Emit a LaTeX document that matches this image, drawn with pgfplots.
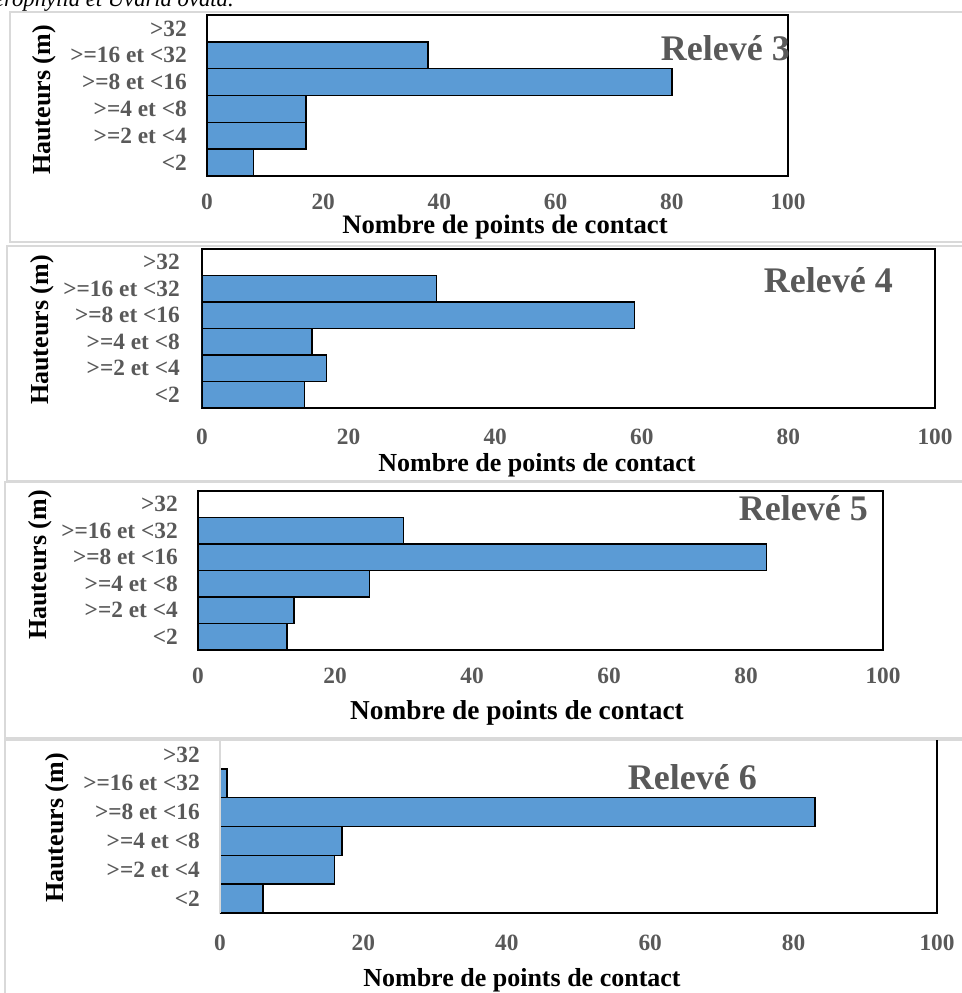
\documentclass[border=0pt]{standalone}
\usepackage{fontspec}
\setmainfont{Liberation Serif}
\usepackage{pgfplots}
\pgfplotsset{compat=1.18}
\definecolor{barblue}{HTML}{5B9BD5}
\definecolor{txtgray}{HTML}{595959}
\definecolor{framegray}{HTML}{D9D9D9}
\pgfplotsset{
  relstyle/.style={
    scale only axis,
    xbar, bar width=1,
    xmin=0, xmax=100, ymin=-0.5, ymax=5.5,
    xtick={0,20,40,60,80,100},
    ytick={0,1,2,3,4,5},
    yticklabels={{<2},{>=2 et <4},{>=4 et <8},{>=8 et <16},{>=16 et <32},{>32}},
    major tick length=0pt,
    axis line style={line width=1.1pt},
    /pgf/number format/assume math mode=true,
    tick label style={font=\fontsize{17.5}{20}\selectfont\bfseries, text=txtgray},
    yticklabel style={anchor=east, inner sep=0pt, xshift=-15pt},
    xticklabel style={anchor=center, inner sep=0pt},
  },
  barstyle/.style={fill=barblue, draw=black, line width=1.1pt},
}
\begin{document}
\begin{tikzpicture}[x=0.75pt,y=-0.75pt]
\useasboundingbox (0,0) rectangle (962,993);
% caption fragment (cut off at the top of the picture)
\node[anchor=base east, inner sep=0pt, font=\fontsize{17}{20}\selectfont\itshape] at (234,6) {heterophylla et Uvaria ovata.};
% panel frames
\draw[framegray, line width=1.5pt] (10,12) rectangle (975,242);
\draw[framegray, line width=1.5pt] (7,246) rectangle (975,481);
\draw[framegray, line width=1.5pt] (5,482) rectangle (975,738);
\draw[framegray, line width=1.5pt] (5,740) rectangle (975,1000);

% Releve 3
\begin{axis}[relstyle, at={(155.25pt,-132pt)}, anchor=south west,
  width=435.75pt, height=120.75pt,
  xticklabel style={yshift=-19.5pt}]
\addplot[barstyle] coordinates {(8,0) (17,1) (17,2) (80,3) (38,4)};
\end{axis}
\node[anchor=base east, inner sep=0pt, text=txtgray, font=\fontsize{27}{30}\selectfont\bfseries] at (790,60) {Relevé 3};
\node[font=\fontsize{20}{24}\selectfont\bfseries] at (505,227) {Nombre de points de contact};
\node[rotate=90, font=\fontsize{19.5}{24}\selectfont\bfseries] at (44,100) {Hauteurs (m)};

% Releve 4
\begin{axis}[relstyle, at={(151.5pt,-306pt)}, anchor=south west,
  width=549.75pt, height=119.25pt,
  xticklabel style={yshift=-21.75pt},
  yticklabel style={xshift=-1.5pt}]
\addplot[barstyle] coordinates {(14,0) (17,1) (15,2) (59,3) (32,4)};
\end{axis}
\node[anchor=base east, inner sep=0pt, text=txtgray, font=\fontsize{27}{30}\selectfont\bfseries] at (893,292) {Relevé 4};
\node[font=\fontsize{19.5}{24}\selectfont\bfseries] at (537,465) {Nombre de points de contact};
\node[rotate=90, font=\fontsize{19.5}{24}\selectfont\bfseries] at (42,330) {Hauteurs (m)};

% Releve 5
\begin{axis}[relstyle, at={(148.5pt,-487.5pt)}, anchor=south west,
  width=513.75pt, height=119.25pt,
  xticklabel style={yshift=-19.5pt}]
\addplot[barstyle] coordinates {(13,0) (14,1) (25,2) (83,3) (30,4)};
\end{axis}
\node[anchor=base east, inner sep=0pt, text=txtgray, font=\fontsize{27}{30}\selectfont\bfseries] at (868,520) {Relevé 5};
\node[font=\fontsize{20.5}{24}\selectfont\bfseries] at (517,713) {Nombre de points de contact};
\node[rotate=90, font=\fontsize{19.5}{24}\selectfont\bfseries] at (40,565) {Hauteurs (m)};

% Releve 6
\begin{axis}[relstyle, at={(165pt,-684.75pt)}, anchor=south west,
  width=537.75pt, height=129.75pt,
  axis line style={draw=none},
  xticklabel style={yshift=-22.5pt},
  after end axis/.code={
    \draw[line width=1.1pt] (rel axis cs:0,0) -- (rel axis cs:1,0) -- (rel axis cs:1,1);
    \draw[framegray, line width=1.1pt] (rel axis cs:0,0) -- (rel axis cs:0,1);
  }]
\addplot[barstyle] coordinates {(6,0) (16,1) (17,2) (83,3) (1,4)};
\end{axis}
\node[anchor=base east, inner sep=0pt, text=txtgray, font=\fontsize{27}{30}\selectfont\bfseries] at (757,789) {Relevé 6};
\node[font=\fontsize{19.5}{24}\selectfont\bfseries] at (522,980) {Nombre de points de contact};
\node[rotate=90, font=\fontsize{19.5}{24}\selectfont\bfseries] at (57,828) {Hauteurs (m)};
\end{tikzpicture}
\end{document}
